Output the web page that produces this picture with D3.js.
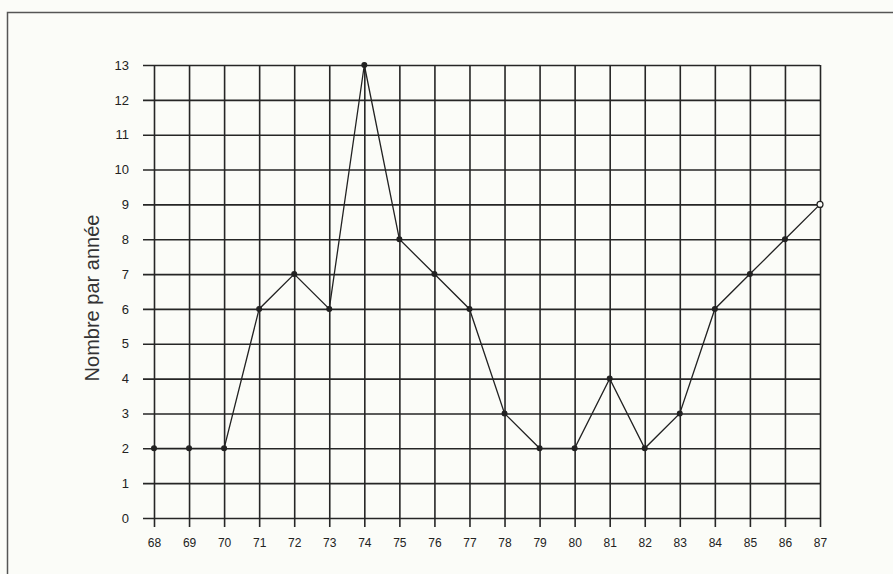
<!DOCTYPE html>
<html lang="fr">
<head>
<meta charset="UTF-8">
<title>Nombre par année</title>
<style>
  body { margin: 0; background: #fbfcf8; }
  svg { display: block; }
</style>
</head>
<body>
<script src="https://d3js.org/d3.v7.min.js"></script>
<script>
  // data
  const years = ['68','69','70','71','72','73','74','75','76','77','78','79','80','81','82','83','84','85','86','87'];
  const counts = [2, 2, 2, 6, 7, 6, 13, 8, 7, 6, 3, 2, 2, 4, 2, 3, 6, 7, 8, 9];
  const yTicks = d3.range(0, 14);

  const width = 893, height = 574;
  const margin = {top: 65, right: 73, bottom: 56, left: 154};

  const svg = d3.select('body').append('svg')
      .attr('width', width).attr('height', height);

  // page frame (top + left edges visible)
  svg.append('rect')
      .attr('x', 7.5).attr('y', 12.5)
      .attr('width', width + 10).attr('height', height + 10)
      .attr('fill', 'none').attr('stroke', '#555').attr('stroke-width', 1.5);

  const x = d3.scalePoint().domain(years)
      .range([margin.left, width - margin.right]);
  const y = d3.scaleLinear().domain([0, 13])
      .range([height - margin.bottom, margin.top]);

  const gridColor = '#262626';
  const font = 'Liberation Sans, Arial, sans-serif';

  // horizontal grid + y axis
  const yAxis = svg.append('g')
      .attr('transform', `translate(${margin.left},0)`)
      .call(d3.axisLeft(y).tickValues(yTicks)
          .tickSize(-(width - margin.left - margin.right))
          .tickSizeOuter(0).tickPadding(25));
  yAxis.select('.domain').remove();
  yAxis.selectAll('.tick line')
      .attr('x1', -11).attr('stroke', gridColor).attr('stroke-width', 1.6);
  yAxis.selectAll('.tick text')
      .attr('fill', '#222').style('font-family', font)
      .style('font-size', '13px');

  // vertical grid + x axis
  const xAxis = svg.append('g')
      .attr('transform', `translate(0,${height - margin.bottom})`)
      .call(d3.axisBottom(x)
          .tickSize(-(height - margin.top - margin.bottom))
          .tickSizeOuter(0).tickPadding(20));
  xAxis.select('.domain').remove();
  xAxis.selectAll('.tick line')
      .attr('y1', 9).attr('stroke', gridColor).attr('stroke-width', 1.6);
  xAxis.selectAll('.tick text')
      .attr('fill', '#222').style('font-family', font)
      .style('font-size', '12px');

  // y label
  svg.append('text')
      .attr('transform', `translate(99,298) rotate(-90)`)
      .attr('text-anchor', 'middle')
      .style('font-family', font)
      .style('font-size', '20px')
      .attr('fill', '#333')
      .text('Nombre par année');

  // series line
  const pts = years.map((yr, i) => ({yr, v: counts[i]}));
  svg.append('path')
      .datum(pts)
      .attr('fill', 'none').attr('stroke', '#222').attr('stroke-width', 1.3)
      .attr('d', d3.line().x(d => x(d.yr)).y(d => y(d.v)));

  svg.append('g').selectAll('circle')
      .data(pts).enter()
      .append('circle')
      .attr('cx', d => x(d.yr)).attr('cy', d => y(d.v))
      .attr('r', (d, i) => i === pts.length - 1 ? 3 : 2.4)
      .attr('fill', (d, i) => i === pts.length - 1 ? '#fbfcf8' : '#222')
      .attr('stroke', '#222').attr('stroke-width', 1.2);
</script>
</body>
</html>
